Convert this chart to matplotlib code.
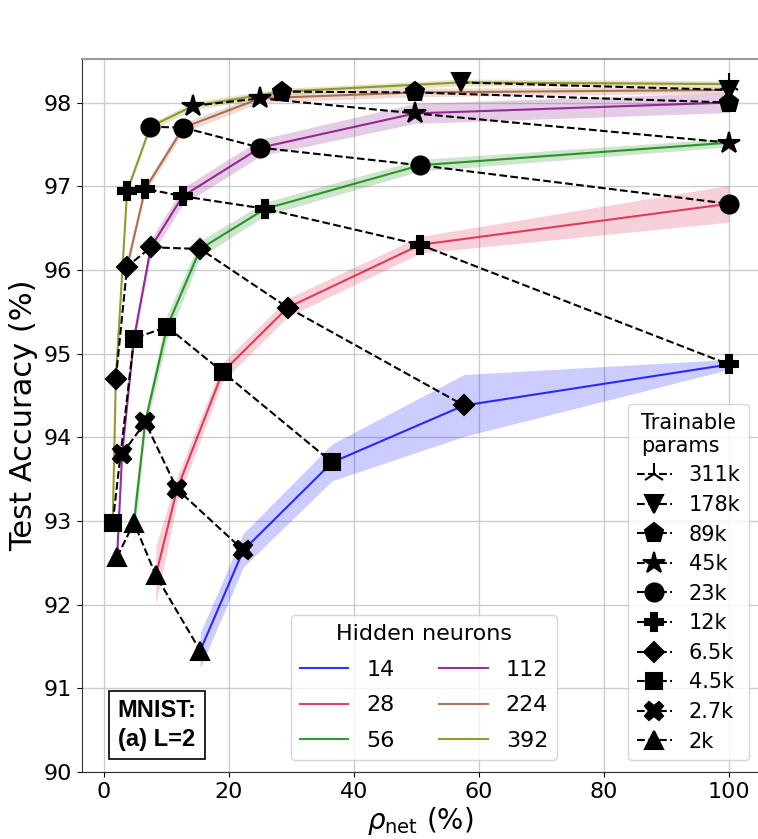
import numpy as np
import matplotlib.pyplot as plt

# test accuracy vs. rho_net for each hidden-layer width (mean and spread)
hidden = [14, 28, 56, 112, 224, 392]
colors = ['blue', 'crimson', 'green', 'purple', 'sienna', 'olive']

rho_14 = [15.4, 22.3, 36.5, 57.6, 100]
acc_14 = [91.45, 92.65, 93.70, 94.38, 94.87]
std_14 = [0.21, 0.20, 0.22, 0.37, 0.06]
par_14 = ['2k', '2.7k', '4.5k', '6.5k', '12k']

rho_28 = [8.3, 11.7, 19.0, 29.4, 50.6, 100]
acc_28 = [92.35, 93.38, 94.78, 95.55, 96.30, 96.79]
std_28 = [0.35, 0.15, 0.11, 0.11, 0.10, 0.22]
par_28 = ['2k', '2.7k', '4.5k', '6.5k', '12k', '23k']

rho_56 = [4.8, 6.6, 10.1, 15.4, 25.8, 50.6, 100]
acc_56 = [92.98, 94.18, 95.32, 96.25, 96.73, 97.25, 97.52]
std_56 = [0.25, 0.10, 0.15, 0.10, 0.08, 0.07, 0.05]
par_56 = ['2k', '2.7k', '4.5k', '6.5k', '12k', '23k', '45k']

rho_112 = [2.1, 2.9, 4.8, 7.5, 12.6, 25.0, 49.8, 100]
acc_112 = [92.57, 93.80, 95.18, 96.27, 96.88, 97.46, 97.87, 98.00]
std_112 = [0.20, 0.08, 0.08, 0.10, 0.10, 0.10, 0.12, 0.12]
par_112 = ['2k', '2.7k', '4.5k', '6.5k', '12k', '23k', '45k', '89k']

rho_224 = [3.7, 6.6, 12.7, 25.0, 49.8, 100]
acc_224 = [96.04, 96.97, 97.70, 98.05, 98.12, 98.15]
std_224 = [0.05, 0.05, 0.06, 0.05, 0.05, 0.04]
par_224 = ['6.5k', '12k', '23k', '45k', '89k', '178k']

rho_392 = [1.4, 1.9, 3.7, 7.4, 14.3, 28.5, 57.1, 100]
acc_392 = [92.98, 94.70, 96.94, 97.71, 97.96, 98.13, 98.24, 98.22]
std_392 = [0.05, 0.04, 0.04, 0.04, 0.05, 0.04, 0.04, 0.04]
par_392 = ['4.5k', '6.5k', '12k', '23k', '45k', '89k', '178k', '311k']

rhos = [rho_14, rho_28, rho_56, rho_112, rho_224, rho_392]
accs = [acc_14, acc_28, acc_56, acc_112, acc_224, acc_392]
stds = [std_14, std_28, std_56, std_112, std_224, std_392]
pars = [par_14, par_28, par_56, par_112, par_224, par_392]

# networks with the same number of trainable parameters
params = ['311k', '178k', '89k', '45k', '23k', '12k', '6.5k', '4.5k', '2.7k', '2k']
markers = ['2', 'v', 'p', '*', 'o', 'P', 'D', 's', 'X', '^']
msizes = [16, 13, 14, 16, 13, 13, 10, 12, 13, 13]

fig = plt.figure(figsize=(7.58, 8.39), dpi=100)
ax = fig.add_axes([0.1083, 0.0798, 0.8938, 0.8499])

lines = []
for h, c, x, y, s in zip(hidden, colors, rhos, accs, stds):
    x = np.array(x); y = np.array(y); s = np.array(s)
    ax.fill_between(x, y - s, y + s, color=c, alpha=0.2, lw=0, zorder=1)
    l, = ax.plot(x, y, '-', color=c, lw=1.5, alpha=0.8, zorder=2, label=str(h))
    lines.append(l)

dashed = []
for p, m, ms in zip(params, markers, msizes):
    pts = []
    for x, y, pl in zip(rhos, accs, pars):
        for xi, yi, pi in zip(x, y, pl):
            if pi == p:
                pts.append((xi, yi))
    pts.sort()
    px = [q[0] for q in pts]
    py = [q[1] for q in pts]
    l, = ax.plot(px, py, 'k--', lw=1.5, marker=m, ms=ms, mec='k', mfc='k',
                 mew=1.5, zorder=3, label=p)
    dashed.append(l)

ax.set_xlim(-3.5, 104.9)
ax.set_ylim(90, 98.52)
ax.set_xticks([0, 20, 40, 60, 80, 100])
ax.set_yticks([90, 91, 92, 93, 94, 95, 96, 97, 98])
ax.tick_params(labelsize=16)
ax.grid(True, color='#cccccc', lw=1)
ax.set_axisbelow(True)
for sp in ['top', 'right']:
    ax.spines[sp].set_color('#999999')
    ax.spines[sp].set_linewidth(1.5)
ax.spines['left'].set_color('#333333')
ax.spines['bottom'].set_color('#333333')

ax.set_xlabel(r'$\rho_{\rm net}$ (%)', fontsize=20, labelpad=2)
ax.set_ylabel('Test Accuracy (%)', fontsize=22)

leg1 = ax.legend(handles=lines, title='Hidden neurons', ncol=2, fontsize=16,
                 title_fontsize=16, loc='lower right', bbox_to_anchor=(0.701, 0.017),
                 borderaxespad=0, labelspacing=0.7, columnspacing=2.0,
                 handlelength=2.2)
ax.add_artist(leg1)
ax.legend(handles=dashed, title='Trainable\nparams', fontsize=15,
          title_fontsize=15, loc='lower right', bbox_to_anchor=(0.984, 0.017),
          borderaxespad=0, labelspacing=0.46, handlelength=1.7)

ax.text(0.1106, 0.066, 'MNIST:\n(a) L=2', transform=ax.transAxes,
        ha='center', va='center', ma='center', fontsize=17, fontweight='bold',
        family='Liberation Sans', linespacing=1.3,
        bbox=dict(boxstyle='square,pad=0.35', fc='white', ec='black', lw=1.2),
        zorder=5)

fig.savefig('out.png', dpi=100)
